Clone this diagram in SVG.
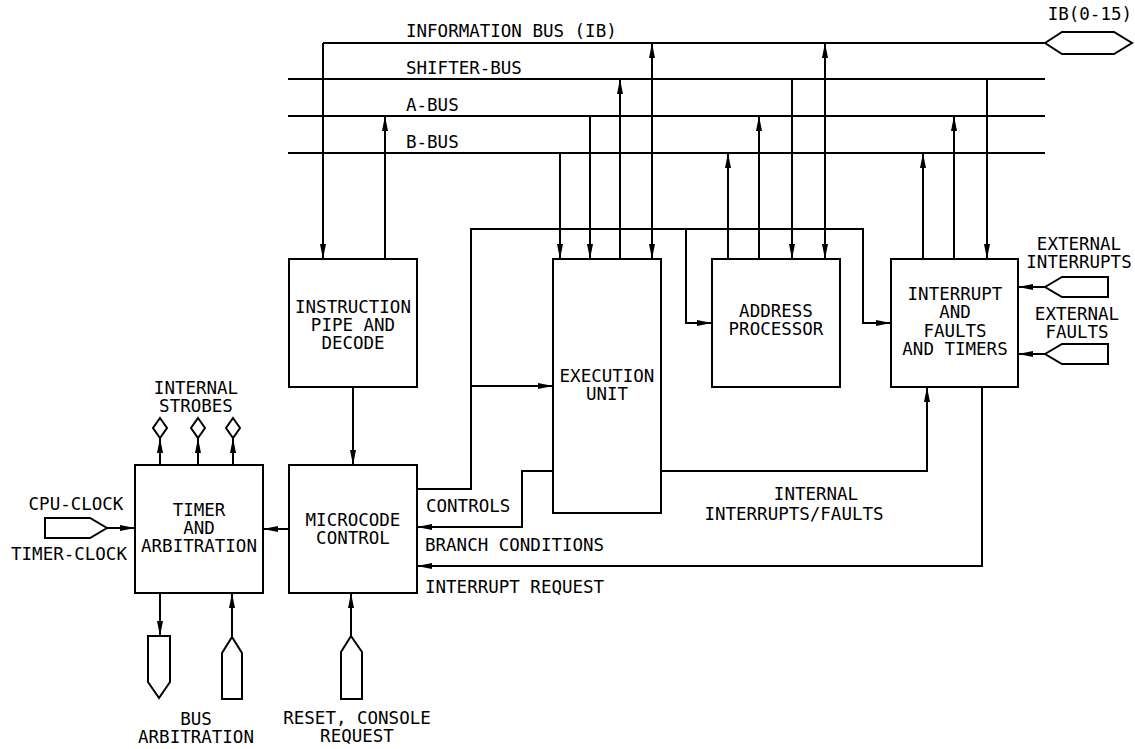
<svg xmlns="http://www.w3.org/2000/svg" width="1135" height="749" viewBox="0 0 1135 749">
<style>
text{font-family:"DejaVu Sans Mono","Liberation Mono",monospace;font-size:17.5px;fill:#000}
.m{text-anchor:middle}
.e{text-anchor:end}
.box{fill:#fff;stroke:#000;stroke-width:2}
.ln{fill:none;stroke:#000;stroke-width:2}
.ar{marker-end:url(#a)}
.ab{marker-start:url(#a);marker-end:url(#a)}
.pin{fill:#fff;stroke:#000;stroke-width:2;stroke-linejoin:miter}
</style>
<defs>
<marker id="a" viewBox="0 0 15 6" refX="15" refY="3" markerWidth="15" markerHeight="6" markerUnits="userSpaceOnUse" orient="auto-start-reverse">
<path d="M0,0 L15,3 L0,6 z" fill="#000"/>
</marker>
</defs>
<rect width="1135" height="749" fill="#fff"/>
<g id="buses">
<path class="ln" d="M323,43 H1045"/>
<path class="ln" d="M288,79 H1045"/>
<path class="ln" d="M288,116 H1045"/>
<path class="ln" d="M288,153 H1045"/>
<text x="406" y="37">INFORMATION BUS (IB)</text>
<text x="406" y="74">SHIFTER-BUS</text>
<text x="406" y="111">A-BUS</text>
<text x="406" y="148">B-BUS</text>
</g>
<g id="connectors">
<path class="ln ar" d="M323,43 V259"/>
<path class="ln ar" d="M385,259 V116"/>
<path class="ln ar" d="M560,153 V259"/>
<path class="ln ar" d="M590,116 V259"/>
<path class="ln ar" d="M620,259 V79"/>
<path class="ln ab" d="M652,259 V43"/>
<path class="ln ar" d="M728,259 V153"/>
<path class="ln ar" d="M759,259 V116"/>
<path class="ln ar" d="M792,79 V259"/>
<path class="ln ab" d="M825,259 V43"/>
<path class="ln ar" d="M923,259 V153"/>
<path class="ln ar" d="M954,259 V116"/>
<path class="ln ar" d="M987,79 V259"/>
<path class="ln ar" d="M417,489 H471 V229 H863 V323 H891"/>
<path class="ln ar" d="M686,229 V323 H712"/>
<path class="ln ar" d="M471,386 H553"/>
<path class="ln ar" d="M553,471 H522 V527 H417"/>
<path class="ln ar" d="M661,471 H927 V387"/>
<path class="ln ar" d="M982,387 V566 H417"/>
<path class="ln ar" d="M353,387 V465"/>
<path class="ln ar" d="M289,529 H263"/>
<path class="ln ar" d="M1045,287 H1018"/>
<path class="ln ar" d="M1045,354 H1018"/>
<path class="ln ar" d="M107,528 H135"/>
<path class="ln ar" d="M160,465 V438"/>
<path class="ln ar" d="M198,465 V438"/>
<path class="ln ar" d="M233,465 V438"/>
<path class="ln ar" d="M160,593 V636"/>
<path class="ln ar" d="M232,637 V593"/>
<path class="ln ar" d="M351,636 V593"/>
<text x="426" y="512">CONTROLS</text>
<text x="425" y="551">BRANCH CONDITIONS</text>
<text x="425" y="593">INTERRUPT REQUEST</text>
<text class="m" x="816" y="500">INTERNAL</text>
<text class="m" x="794" y="520">INTERRUPTS/FAULTS</text>
</g>
<g id="ib-pin">
<polygon class="pin" points="1045,43 1062,32 1114,32 1132,43 1114,54 1062,54"/>
<text class="e" x="1132" y="20">IB(0-15)</text>
</g>
<g id="instruction-pipe">
<rect class="box" x="289" y="259" width="128" height="128"/>
<text class="m" x="353" y="313">INSTRUCTION</text>
<text class="m" x="353" y="331">PIPE AND</text>
<text class="m" x="353" y="349">DECODE</text>
</g>
<g id="execution-unit">
<rect class="box" x="553" y="259" width="108" height="254"/>
<text class="m" x="607" y="382">EXECUTION</text>
<text class="m" x="607" y="400">UNIT</text>
</g>
<g id="address-processor">
<rect class="box" x="712" y="259" width="128" height="128"/>
<text class="m" x="776" y="317">ADDRESS</text>
<text class="m" x="776" y="335">PROCESSOR</text>
</g>
<g id="interrupt-faults-timers">
<rect class="box" x="891" y="259" width="127" height="128"/>
<text class="m" x="955" y="300">INTERRUPT</text>
<text class="m" x="955" y="318">AND</text>
<text class="m" x="955" y="337">FAULTS</text>
<text class="m" x="955" y="355">AND TIMERS</text>
</g>
<g id="external-interrupts">
<polygon class="pin" points="1045,287 1062,277 1108,277 1108,297 1062,297"/>
<text class="m" x="1079" y="250">EXTERNAL</text>
<text class="m" x="1079" y="268">INTERRUPTS</text>
</g>
<g id="external-faults">
<polygon class="pin" points="1045,354 1062,344 1108,344 1108,364 1062,364"/>
<text class="m" x="1077" y="320">EXTERNAL</text>
<text class="m" x="1077" y="338">FAULTS</text>
</g>
<g id="microcode-control">
<rect class="box" x="289" y="465" width="128" height="128"/>
<text class="m" x="353" y="526">MICROCODE</text>
<text class="m" x="353" y="544">CONTROL</text>
</g>
<g id="timer-arbitration">
<rect class="box" x="135" y="465" width="128" height="128"/>
<text class="m" x="199" y="516">TIMER</text>
<text class="m" x="199" y="534">AND</text>
<text class="m" x="199" y="552">ARBITRATION</text>
</g>
<g id="clock-pin">
<polygon class="pin" points="45,518 90,518 107,528 90,538 45,538"/>
<text class="m" x="76" y="510">CPU-CLOCK</text>
<text class="m" x="69" y="560">TIMER-CLOCK</text>
</g>
<g id="internal-strobes">
<polygon class="pin" points="160,418 167,428 160,438 153,428"/>
<polygon class="pin" points="198,418 205,428 198,438 191,428"/>
<polygon class="pin" points="233,418 240,428 233,438 226,428"/>
<text class="m" x="196" y="394">INTERNAL</text>
<text class="m" x="196" y="412">STROBES</text>
</g>
<g id="bus-arbitration">
<polygon class="pin" points="148,636 170,636 170,682 159,698 148,682"/>
<polygon class="pin" points="232,637 242,653 242,699 222,699 222,653"/>
<text class="m" x="196" y="725">BUS</text>
<text class="m" x="196" y="743">ARBITRATION</text>
</g>
<g id="reset-console">
<polygon class="pin" points="351,636 362,652 362,699 341,699 341,652"/>
<text class="m" x="357" y="724">RESET, CONSOLE</text>
<text class="m" x="357" y="742">REQUEST</text>
</g>
</svg>
